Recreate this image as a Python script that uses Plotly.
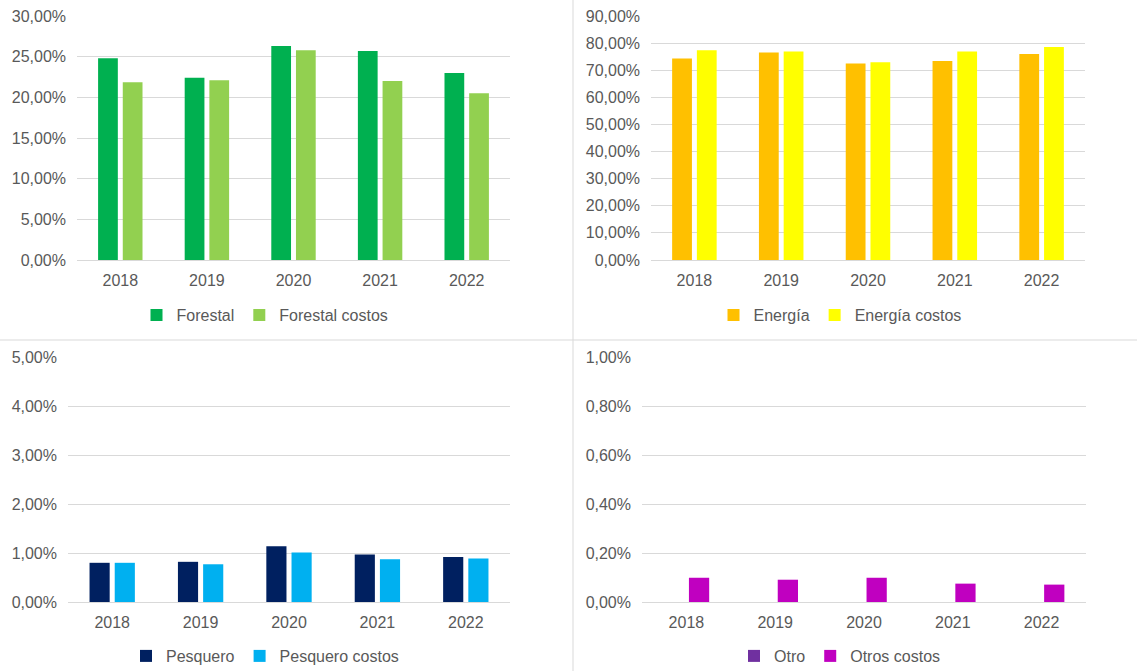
import plotly.graph_objects as go

# Years on the category axis
years = ["2018", "2019", "2020", "2021", "2022"]

# Shares by sector (fractions of 1)
forestal = [0.248, 0.224, 0.263, 0.257, 0.230]
forestal_costos = [0.2185, 0.221, 0.258, 0.220, 0.205]

energia = [0.743, 0.765, 0.725, 0.734, 0.760]
energia_costos = [0.774, 0.769, 0.729, 0.769, 0.786]

pesquero = [0.0080, 0.0082, 0.0114, 0.0097, 0.0092]
pesquero_costos = [0.0080, 0.0077, 0.0101, 0.0087, 0.0089]

otro = [0.0, 0.0, 0.0, 0.0, 0.0]
otros_costos = [0.00099, 0.00091, 0.00099, 0.00075, 0.00071]

W, H = 1137, 671
GRID = "#D9D9D9"
TXT = "#595959"
FONT = "Liberation Sans, Arial, sans-serif"


def px_x(v):
    """Pixel column -> paper fraction."""
    return v / W


def px_y(v):
    """Pixel row -> paper fraction."""
    return 1 - v / H


panels = [
    # (series, names, colors, x-domain px, y-domain px (top, bottom), y max, dtick, legend center px)
    ((forestal, forestal_costos), ("Forestal", "Forestal costos"), ("#00B050", "#92D050"),
     (77, 510), (16, 260), 0.30, 0.05, (265, 315)),
    ((energia, energia_costos), ("Energía", "Energía costos"), ("#FFC000", "#FFFF00"),
     (651, 1085), (16, 260), 0.90, 0.10, (840, 315)),
    ((pesquero, pesquero_costos), ("Pesquero", "Pesquero costos"), ("#002060", "#00B0F0"),
     (68, 510), (357, 602), 0.05, 0.01, (265, 656)),
    ((otro, otros_costos), ("Otro", "Otros costos"), ("#7030A0", "#C000C0"),
     (642, 1086), (357, 602), 0.010, 0.002, (840, 656)),
]

fig = go.Figure()
layout = {}

for i, (series, names, colors, xd, yd, ymax, dt, lg) in enumerate(panels, start=1):
    sfx = "" if i == 1 else str(i)
    legend_id = "legend" if i == 1 else f"legend{i}"
    for vals, name, col in zip(series, names, colors):
        fig.add_trace(go.Bar(
            x=years, y=vals, name=name,
            marker=dict(color=col, line=dict(width=0)),
            xaxis=f"x{sfx}", yaxis=f"y{sfx}",
            legend=legend_id,
        ))
    layout[f"xaxis{sfx}"] = dict(
        domain=[px_x(xd[0]), px_x(xd[1])], anchor=f"y{sfx}",
        showline=True, linecolor=GRID, linewidth=1,
        showgrid=False, ticks="", tickfont=dict(size=16, color=TXT, family=FONT),
        ticklabelstandoff=6, automargin=False,
    )
    layout[f"yaxis{sfx}"] = dict(
        domain=[px_y(yd[1]), px_y(yd[0])], anchor=f"x{sfx}",
        range=[0, ymax], dtick=dt, tick0=0, tickformat=".2%",
        showgrid=True, gridcolor=GRID, gridwidth=1, zeroline=False,
        showline=False, ticks="", tickfont=dict(size=16, color=TXT, family=FONT),
        ticklabelstandoff=10, automargin=False,
    )
    layout[legend_id] = dict(
        orientation="h", x=px_x(lg[0]), y=px_y(lg[1]),
        xanchor="center", yanchor="middle",
        font=dict(size=16, color=TXT, family=FONT),
        bgcolor="rgba(0,0,0,0)", itemwidth=30, tracegroupgap=0,
    )

# Light separators between the four panels
shapes = [
    dict(type="line", xref="paper", yref="paper", x0=px_x(573), x1=px_x(573), y0=0, y1=1,
         line=dict(color=GRID, width=1)),
    dict(type="line", xref="paper", yref="paper", x0=0, x1=1, y0=px_y(340), y1=px_y(340),
         line=dict(color=GRID, width=1)),
]

fig.update_layout(
    width=W, height=H, autosize=False,
    margin=dict(l=0, r=0, t=0, b=0, pad=0, autoexpand=False),
    paper_bgcolor="white", plot_bgcolor="white",
    barmode="group", bargap=0.43, bargroupgap=0.2,
    separators=",.",
    showlegend=True,
    font=dict(family=FONT, color=TXT, size=16),
    shapes=shapes,
    **layout,
)

fig.write_html("out.html")
